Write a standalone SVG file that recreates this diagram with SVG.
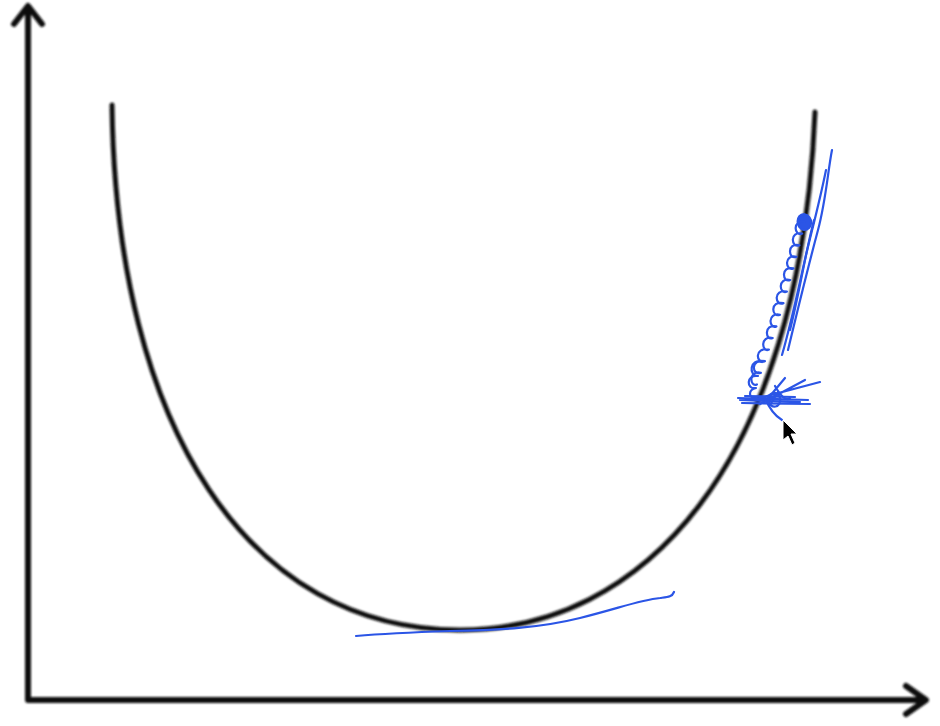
<svg xmlns="http://www.w3.org/2000/svg" width="940" height="726" viewBox="0 0 940 726">
<defs>
<style>
.ax{fill:none;stroke:#111;stroke-width:6;stroke-linecap:round;stroke-linejoin:round}
.cv{fill:none;stroke:#111;stroke-width:5;stroke-linecap:round}
.ink{fill:none;stroke:#2b55e6;stroke-width:2.2;stroke-linecap:round;stroke-linejoin:round}
</style>
<filter id="blur" x="-5%" y="-5%" width="110%" height="110%"><feGaussianBlur stdDeviation="1.2"/></filter>
</defs>
<rect width="940" height="726" fill="#fff"/>
<g id="axes" filter="url(#blur)">
<path class="ax" d="M28,8 L28,700 L924,700"/>
<path class="ax" d="M14,24 L28,6 L42,24"/>
<path class="ax" d="M906,686 L926,700 L906,714"/>
</g>
<g id="curve" filter="url(#blur)">
<path class="cv" d="M112,105 C116,430 250,630 460,630 C640,630 800,470 815,112"/>
</g>
<g id="tangent">
<path class="ink" d="M356,636 C390,633 420,632 450,631 C500,630 540,628 580,618 C620,608 640,600 660,598 C668,597 672,597 674,592"/>
</g>
<g id="scribble">
<path class="ink" d="M832,150 C828,170 826,200 818,230 C810,260 800,300 788,350"/>
<path class="ink" d="M826,170 C820,200 812,230 806,255 C798,290 792,320 782,355"/>
<path class="ink" d="M814,220 C806,250 800,290 790,330"/>
<path class="ink" d="M804,214 C796,214 795,228 804,230 C813,230 814,216 804,214 Z" style="fill:#2b55e6"/>
<path class="ink" d="M805,222 c-13,-3 -11,15 -2.8,11.6 c-13,-3 -11,15 -2.8,11.6 c-13,-3 -11,15 -3,11.6 c-13,-3 -11,15 -3,11.6 c-13,-3 -11,15 -3.2,11.6 c-13,-3 -11,15 -3.3,11.6 c-14,-3 -12,15 -3.4,11.6 c-14,-3 -12,15 -3.5,11.6 c-13,-3 -11,15 -3.6,11.6 c-13,-3 -11,15 -3.7,11.6 c-13,-3 -11,15 -3.8,11.6 c-15,-3 -13,15 -4,11.6 c-15,-3 -13,15 -4,11.6 c-13,-3 -11,15 -4,11.6"/>
<path class="ink" d="M762,362 c-12,-4 -14,14 -4,14 c-12,-2 -12,14 -2,12 c-8,2 -8,10 0,10"/>
<path class="ink" d="M740,400 L800,402 M738,398 L808,400 M742,403 L810,404 M745,396 L795,397"/>
<path class="ink" d="M752,400 L820,382 M760,404 L805,380 M765,402 L785,378 M770,405 L778,392 M765,398 C770,410 775,416 782,420 M775,386 C780,395 786,402 790,398"/>
<path class="ink" d="M768,400 C768,392 778,390 780,398 C782,408 770,410 768,400 Z"/>
</g>
<g id="cursor">
<path d="M783,420 L783,440 L788,436 L792,445 L795,443 L791,434 L797,434 Z" fill="#000" stroke="#fff" stroke-width="1"/>
</g>
</svg>
